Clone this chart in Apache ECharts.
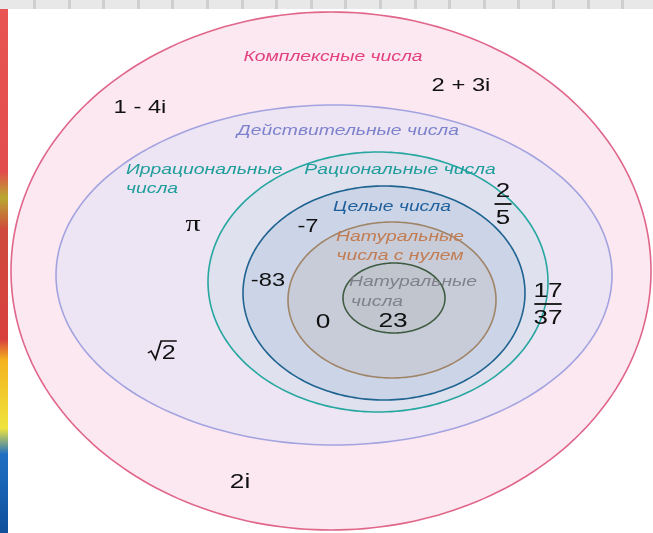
<!DOCTYPE html>
<html>
<head>
<meta charset="utf-8">
<script src="https://cdn.jsdelivr.net/npm/echarts@6/dist/echarts.min.js"></script>
<style>
html,body{margin:0;padding:0;background:#fff;}
#chart{width:653px;height:533px;}
</style>
</head>
<body>
<div id="chart"></div>
<script>
// ---- Sets (nested ellipses) ----
const setNames = ['Комплексные числа', 'Действительные числа', 'Рациональные числа', 'Целые числа', 'Натуральные числа с нулем', 'Натуральные числа'];
const setCenterX = [331, 334, 378, 384, 392, 394];
const setCenterY = [271, 275, 282, 293, 300, 298];
const setRadiusX = [320, 278, 170, 141, 104, 51];
const setRadiusY = [259, 170, 130, 107, 78, 35];

// ---- Labels ----
const labelTexts = ['Комплексные числа', 'Действительные числа', 'Иррациональные', 'числа', 'Рациональные числа', 'Целые числа', 'Натуральные', 'числа с нулем', 'Натуральные', 'числа',
  '2 + 3i', '1 - 4i', '-7', '-83', '0', '23', '2i', 'π'];
const labelX = [333, 348, 126, 126, 400, 392, 400, 400, 413, 351, 461, 140, 308, 268, 323, 393, 240, 193];
const labelY = [57, 131, 170, 189, 170, 207, 237, 256, 282, 302, 86, 108, 227, 281, 322, 321, 482, 225];
const labelKind = ['complex', 'real', 'rational', 'rational', 'rational', 'integer', 'natural0', 'natural0', 'natural', 'natural',
  'num', 'num', 'num', 'num', 'numBig', 'numBig', 'numBig', 'pi'];
const labelAlign = ['center', 'center', 'left', 'left', 'center', 'center', 'center', 'center', 'center', 'left',
  'center', 'center', 'center', 'center', 'center', 'center', 'center', 'center'];

// ---- Fractions ----
const fracNum = ['2', '17'];
const fracDen = ['5', '37'];
const fracX = [503, 548];
const fracY = [204, 304];

// ---- Root ----
const rootText = ['2'];
const rootX = [163];
const rootY = [352];

// styles
const setStroke = ['#e0668a', '#a3a3e0', '#26a7a0', '#1f6390', '#a08468', '#3f5c42'];
const setFill = ['#fce8f0', '#ede5f4', '#e0e1ef', '#cbd5e7', '#c8ccd8', '#c1c5ce'];
const SANS = "'Liberation Sans', Arial, sans-serif";
const kindStyle = {
  complex: {color: '#e2407e', font: 'italic 14px ' + SANS, sx: 1.38},
  real: {color: '#7d82cc', font: 'italic 14px ' + SANS, sx: 1.38},
  rational: {color: '#1f9d9b', font: 'italic 14px ' + SANS, sx: 1.38},
  integer: {color: '#1f5f9c', font: 'italic 14px ' + SANS, sx: 1.38},
  natural0: {color: '#c27c52', font: 'italic 14px ' + SANS, sx: 1.38},
  natural: {color: '#80828b', font: 'italic 14px ' + SANS, sx: 1.38},
  num: {color: '#111', font: '19px ' + SANS, sx: 1.25},
  numBig: {color: '#111', font: '21px ' + SANS, sx: 1.25},
  pi: {color: '#111', font: '23px "Liberation Serif", serif', sx: 1.3}
};

const chart = echarts.init(document.getElementById('chart'), null, {renderer: 'canvas'});

const ellipseData = setNames.map((n, i) => ({name: n, value: [setCenterX[i], setCenterY[i], setRadiusX[i], setRadiusY[i]]}));
const labelData = labelTexts.map((t, i) => ({name: t, value: [labelX[i], labelY[i]]}));
const fracData = fracNum.map((t, i) => ({name: t + '/' + fracDen[i], value: [fracX[i], fracY[i]]}));
const rootData = rootText.map((t, i) => ({name: '√' + t, value: [rootX[i], rootY[i]]}));

// decorative screen edges
const topTicks = [];
for (let x = 33; x < 653; x += 34.6) {
  topTicks.push({type: 'rect', shape: {x: Math.round(x), y: 0, width: 3, height: 9}, style: {fill: '#cfcfcf'}, z: 11});
}

chart.setOption({
  animation: false,
  backgroundColor: '#ffffff',
  grid: {left: 0, right: 0, top: 0, bottom: 0},
  xAxis: {type: 'value', min: 0, max: 653, show: false},
  yAxis: {type: 'value', min: 0, max: 533, inverse: true, show: false},
  graphic: [
    {type: 'rect', shape: {x: 0, y: 0, width: 653, height: 9}, style: {fill: '#e8e8e8'}, z: 10},
    {type: 'rect', shape: {x: 0, y: 9, width: 8, height: 524}, z: 10,
      style: {fill: new echarts.graphic.LinearGradient(0, 0, 0, 1, [
        {offset: 0, color: '#e95552'}, {offset: 0.31, color: '#e24c4c'}, {offset: 0.36, color: '#b9a830'},
        {offset: 0.42, color: '#cf4a3c'}, {offset: 0.63, color: '#d8403e'}, {offset: 0.67, color: '#f4b21e'},
        {offset: 0.8, color: '#efe43e'}, {offset: 0.85, color: '#1f6fc4'}, {offset: 1, color: '#0f4f9a'}])}}
  ].concat(topTicks),
  series: [
    {
      type: 'custom',
      name: 'sets',
      coordinateSystem: 'cartesian2d',
      data: ellipseData,
      silent: true,
      renderItem: function (params, api) {
        const i = params.dataIndex;
        const cx = api.value(0), cy = api.value(1), rx = api.value(2), ry = api.value(3);
        const pts = [];
        for (let k = 0; k < 240; k++) {
          const a = k / 240 * Math.PI * 2;
          pts.push(api.coord([cx + rx * Math.cos(a), cy + ry * Math.sin(a)]));
        }
        return {type: 'polygon', z2: i, shape: {points: pts},
          style: {fill: setFill[i], stroke: setStroke[i], lineWidth: 1.6}};
      }
    },
    {
      type: 'custom',
      name: 'labels',
      coordinateSystem: 'cartesian2d',
      data: labelData,
      silent: true,
      z: 5,
      renderItem: function (params, api) {
        const i = params.dataIndex;
        const p = api.coord([api.value(0), api.value(1)]);
        const st = kindStyle[labelKind[i]];
        return {type: 'text', x: p[0], y: p[1], scaleX: st.sx,
          style: {x: 0, y: 0, text: labelTexts[i], fill: st.color, font: st.font, align: labelAlign[i], verticalAlign: 'middle'}};
      }
    },
    {
      type: 'custom',
      name: 'fractions',
      coordinateSystem: 'cartesian2d',
      data: fracData,
      silent: true,
      z: 5,
      renderItem: function (params, api) {
        const i = params.dataIndex;
        const p = api.coord([api.value(0), api.value(1)]);
        const w = fracNum[i].length > 1 || fracDen[i].length > 1 ? 10.5 : 6.5;
        const font = '20px ' + SANS;
        return {type: 'group', x: p[0], y: p[1], scaleX: 1.3, children: [
          {type: 'text', style: {x: 0, y: -13, text: fracNum[i], font: font, fill: '#111', align: 'center', verticalAlign: 'middle'}},
          {type: 'line', shape: {x1: -w, y1: 0, x2: w, y2: 0}, style: {stroke: '#111', lineWidth: 1.8}},
          {type: 'text', style: {x: 0, y: 14, text: fracDen[i], font: font, fill: '#111', align: 'center', verticalAlign: 'middle'}}
        ]};
      }
    },
    {
      type: 'custom',
      name: 'roots',
      coordinateSystem: 'cartesian2d',
      data: rootData,
      silent: true,
      z: 5,
      renderItem: function (params, api) {
        const i = params.dataIndex;
        const p = api.coord([api.value(0), api.value(1)]);
        const font = '20px ' + SANS;
        return {type: 'group', x: p[0], y: p[1], scaleX: 1.25, children: [
          {type: 'polyline', shape: {points: [[-12, 1], [-9.5, -1], [-6, 7], [-1.5, -11], [11, -11]]}, style: {stroke: '#111', lineWidth: 1.4, fill: null}},
          {type: 'text', style: {x: 4.5, y: 1, text: rootText[i], font: font, fill: '#111', align: 'center', verticalAlign: 'middle'}}
        ]};
      }
    }
  ]
});
</script>
</body>
</html>
